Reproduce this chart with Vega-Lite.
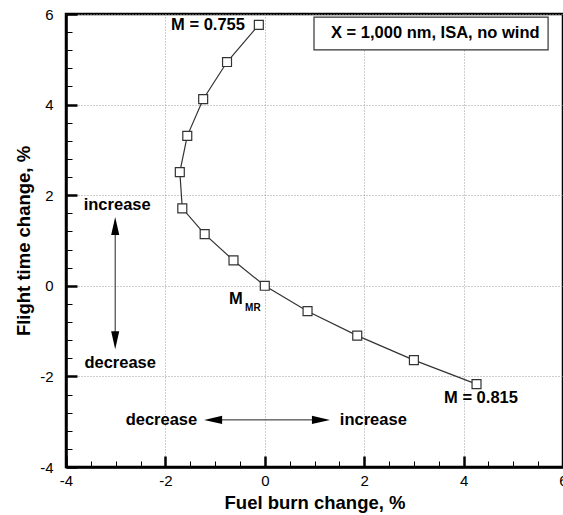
{
  "$schema": "https://vega.github.io/schema/vega-lite/v6.json",
  "width": 497,
  "height": 453,
  "autosize": "none",
  "padding": {"left": 66, "top": 14, "right": 0, "bottom": 48},
  "background": "white",
  "config": {
    "font": "Liberation Sans",
    "view": {"stroke": "black", "strokeWidth": 2.5},
    "axis": {
      "domainColor": "black",
      "domainWidth": 2.5,
      "tickColor": "black",
      "labelFont": "Liberation Sans",
      "labelFontSize": 15,
      "labelColor": "black",
      "labelOverlap": false,
      "labelFlush": false,
      "titleFont": "Liberation Sans",
      "titleFontSize": 18.5,
      "titleFontWeight": "bold",
      "titleColor": "black",
      "gridColor": "#9a9a9a",
      "gridDash": [1, 2],
      "gridWidth": 1
    }
  },
  "resolve": {"axis": {"x": "independent", "y": "independent"}},
  "datasets": {
    "curve": [
      {"fb": -0.12, "ft": 5.76},
      {"fb": -0.76, "ft": 4.94},
      {"fb": -1.24, "ft": 4.12},
      {"fb": -1.56, "ft": 3.31},
      {"fb": -1.71, "ft": 2.51},
      {"fb": -1.66, "ft": 1.71},
      {"fb": -1.21, "ft": 1.14},
      {"fb": -0.63, "ft": 0.56},
      {"fb": 0.0, "ft": 0.0},
      {"fb": 0.86, "ft": -0.56},
      {"fb": 1.86, "ft": -1.1},
      {"fb": 3.0, "ft": -1.64},
      {"fb": 4.26, "ft": -2.17}
    ]
  },
  "layer": [
    {
      "data": {"values": [{"x": 0, "y": 0}]},
      "mark": {"type": "point", "opacity": 0},
      "encoding": {
        "x": {
          "field": "x", "type": "quantitative",
          "scale": {"domain": [-4, 6], "nice": false, "zero": false},
          "title": "Fuel burn change, %",
          "axis": {
            "orient": "bottom",
            "values": [-4, -2, 0, 2, 4, 6],
            "labelExpr": "(datum.value < 0 ? '-' : '') + abs(datum.value)",
            "tickSize": -11,
            "tickWidth": 2.5,
            "labelPadding": 17,
            "grid": true,
            "titlePadding": 5
          }
        },
        "y": {
          "field": "y", "type": "quantitative",
          "scale": {"domain": [-4, 6], "nice": false, "zero": false},
          "title": "Flight time change, %",
          "axis": {
            "orient": "left",
            "values": [-4, -2, 0, 2, 4, 6],
            "labelExpr": "(datum.value < 0 ? '-' : '') + abs(datum.value)",
            "tickSize": -11,
            "tickWidth": 2.5,
            "labelPadding": 24,
            "grid": true,
            "titlePadding": 6
          }
        }
      }
    },
    {
      "data": {"values": [{"x": 0, "y": 0}]},
      "mark": {"type": "point", "opacity": 0},
      "encoding": {
        "x": {
          "field": "x", "type": "quantitative",
          "title": null,
          "axis": {
            "orient": "bottom",
            "values": [-3.5, -3, -2.5, -1.5, -1, -0.5, 0.5, 1, 1.5, 2.5, 3, 3.5, 4.5, 5, 5.5],
            "labels": false,
            "domain": false,
            "grid": false,
            "tickSize": -6,
            "tickWidth": 1,
            "title": null
          }
        },
        "y": {
          "field": "y", "type": "quantitative",
          "title": null,
          "axis": {
            "orient": "left",
            "values": [-3.6, -3.2, -2.8, -2.4, -1.6, -1.2, -0.8, -0.4, 0.4, 0.8, 1.2, 1.6, 2.4, 2.8, 3.2, 3.6, 4.4, 4.8, 5.2, 5.6],
            "labels": false,
            "domain": false,
            "grid": false,
            "tickSize": -6,
            "tickWidth": 1,
            "title": null
          }
        }
      }
    },
    {
      "data": {"values": [{"x1": 0.99, "x2": 5.7, "y1": 5.93, "y2": 5.21}]},
      "mark": {"type": "rect", "fill": "white", "stroke": "#333333", "strokeWidth": 1.2},
      "encoding": {
        "x": {"field": "x1", "type": "quantitative", "axis": null},
        "x2": {"field": "x2"},
        "y": {"field": "y1", "type": "quantitative", "axis": null},
        "y2": {"field": "y2"}
      }
    },
    {
      "data": {"values": [{"x": 3.43, "y": 5.57, "t": "X = 1,000 nm, ISA, no wind"}]},
      "mark": {"type": "text", "fontSize": 16.5, "fontWeight": "bold", "color": "black", "align": "center", "baseline": "middle"},
      "encoding": {
        "x": {"field": "x", "type": "quantitative", "axis": null},
        "y": {"field": "y", "type": "quantitative", "axis": null},
        "text": {"field": "t"}
      }
    },
    {
      "data": {"name": "curve"},
      "mark": {"type": "line", "color": "#333333", "strokeWidth": 1.2},
      "encoding": {
        "x": {"field": "fb", "type": "quantitative", "axis": null},
        "y": {"field": "ft", "type": "quantitative", "axis": null},
        "order": {"field": "ft", "type": "quantitative", "sort": "descending"}
      }
    },
    {
      "data": {"name": "curve"},
      "mark": {"type": "point", "shape": "square", "size": 80, "filled": true, "fill": "white", "stroke": "#333333", "strokeWidth": 1.2, "opacity": 1},
      "encoding": {
        "x": {"field": "fb", "type": "quantitative", "axis": null},
        "y": {"field": "ft", "type": "quantitative", "axis": null}
      }
    },
    {
      "data": {"values": [{"x": -0.4, "y": 5.76, "t": "M = 0.755"}]},
      "mark": {"type": "text", "fontSize": 16.5, "fontWeight": "bold", "color": "black", "align": "right", "baseline": "middle"},
      "encoding": {
        "x": {"field": "x", "type": "quantitative", "axis": null},
        "y": {"field": "y", "type": "quantitative", "axis": null},
        "text": {"field": "t"}
      }
    },
    {
      "data": {"values": [
        {"x": 4.35, "y": -2.48, "t": "M = 0.815"},
        {"x": -0.58, "y": -0.29, "t": "M"},
        {"x": -2.97, "y": 1.78, "t": "increase"},
        {"x": -2.91, "y": -1.7, "t": "decrease"}
      ]},
      "mark": {"type": "text", "fontSize": 16.5, "fontWeight": "bold", "color": "black", "align": "center", "baseline": "middle"},
      "encoding": {
        "x": {"field": "x", "type": "quantitative", "axis": null},
        "y": {"field": "y", "type": "quantitative", "axis": null},
        "text": {"field": "t"}
      }
    },
    {
      "data": {"values": [{"x": -0.24, "y": -0.48, "t": "MR"}]},
      "mark": {"type": "text", "fontSize": 10, "fontWeight": "bold", "color": "black", "align": "center", "baseline": "middle"},
      "encoding": {
        "x": {"field": "x", "type": "quantitative", "axis": null},
        "y": {"field": "y", "type": "quantitative", "axis": null},
        "text": {"field": "t"}
      }
    },
    {
      "data": {"values": [{"x": -1.36, "y": -2.96, "t": "decrease"}]},
      "mark": {"type": "text", "fontSize": 16.5, "fontWeight": "bold", "color": "black", "align": "right", "baseline": "middle"},
      "encoding": {
        "x": {"field": "x", "type": "quantitative", "axis": null},
        "y": {"field": "y", "type": "quantitative", "axis": null},
        "text": {"field": "t"}
      }
    },
    {
      "data": {"values": [{"x": 1.51, "y": -2.96, "t": "increase"}]},
      "mark": {"type": "text", "fontSize": 16.5, "fontWeight": "bold", "color": "black", "align": "left", "baseline": "middle"},
      "encoding": {
        "x": {"field": "x", "type": "quantitative", "axis": null},
        "y": {"field": "y", "type": "quantitative", "axis": null},
        "text": {"field": "t"}
      }
    },
    {
      "data": {"values": [
        {"x1": -3.01, "x2": -3.01, "y1": 1.4, "y2": -1.3},
        {"x1": -1.1, "x2": 1.2, "y1": -2.96, "y2": -2.96}
      ]},
      "mark": {"type": "rule", "color": "#222222", "strokeWidth": 1},
      "encoding": {
        "x": {"field": "x1", "type": "quantitative", "axis": null},
        "x2": {"field": "x2"},
        "y": {"field": "y1", "type": "quantitative", "axis": null},
        "y2": {"field": "y2"}
      }
    },
    {
      "data": {"values": [
        {"x": -3.01, "y": 1.32, "dir": "up"},
        {"x": -3.01, "y": -1.2, "dir": "down"},
        {"x": -1.04, "y": -2.96, "dir": "left"},
        {"x": 1.13, "y": -2.96, "dir": "right"}
      ]},
      "mark": {"type": "point", "filled": true, "color": "black", "opacity": 1, "size": 324, "strokeWidth": 0},
      "encoding": {
        "x": {"field": "x", "type": "quantitative", "axis": null},
        "y": {"field": "y", "type": "quantitative", "axis": null},
        "shape": {
          "field": "dir", "type": "nominal", "legend": null,
          "scale": {
            "domain": ["up", "down", "left", "right"],
            "range": ["M0,-1L0.45,1L-0.45,1Z", "M0,1L0.45,-1L-0.45,-1Z", "M-1,0L1,-0.45L1,0.45Z", "M1,0L-1,-0.45L-1,0.45Z"]
          }
        }
      }
    }
  ]
}
